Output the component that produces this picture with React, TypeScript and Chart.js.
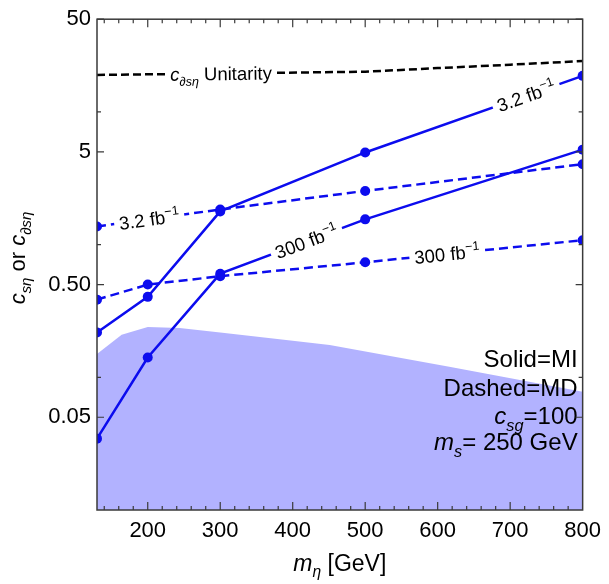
import React, { useEffect, useRef } from 'react';
import { Chart, registerables } from 'chart.js';

Chart.register(...registerables);

const FONT = '"Liberation Sans", Arial, Helvetica, sans-serif';
const BLUE = 'rgb(12,12,238)';
const SHADE = 'rgb(178,178,255)';
const FRAME = '#3a3a3a';

// Mass points (GeV) and coupling limits
const massMI = [130, 200, 300, 500, 800];
const solid32 = [0.218, 0.404, 1.78, 4.95, 18.7];
const solid300 = [0.0345, 0.141, 0.604, 1.55, 5.2];

const massMD32 = [130, 300, 500, 800];
const dashed32 = [1.37, 1.84, 2.54, 4.04];

const massMD300 = [130, 200, 300, 500, 800];
const dashed300 = [0.385, 0.5, 0.578, 0.736, 1.08];

const massUnitarity = [130, 300, 500, 600, 700, 800];
const unitarity = [19.0, 19.5, 20.1, 21.4, 22.7, 24.2];

const massExcluded = [130, 164, 200, 244, 300, 400, 451, 616, 800];
const excluded = [0.15, 0.209, 0.239, 0.235, 0.218, 0.189, 0.175, 0.12, 0.078];

const xMajorTicks = [200, 300, 400, 500, 600, 700, 800];
const xMinorStep = 20;
const yMajorTicks = [0.05, 0.5, 5, 50];
const yTickLabels = ['0.05', '0.50', '5', '50'];
const yMinorTicks = [0.1, 1, 10];

type Run = { t: string; italic?: boolean; sub?: boolean; sup?: boolean };

const fbInv = (lumi: string): Run[] => [{ t: `${lumi} fb` }, { t: '\u22121', sup: true }];

// Inline curve labels: dataset index, mass where the label sits
const curveLabels: { ds: number; mass: number; runs: Run[] }[] = [
  { ds: 0, mass: 722, runs: fbInv('3.2') },
  { ds: 1, mass: 419, runs: fbInv('300') },
  { ds: 2, mass: 202, runs: fbInv('3.2') },
  { ds: 3, mass: 613, runs: fbInv('300') },
  {
    ds: 4,
    mass: 301,
    runs: [{ t: 'c', italic: true }, { t: '\u2202s\u03b7', italic: true, sub: true }, { t: ' Unitarity' }],
  },
];

const noteLines: Run[][] = [
  [{ t: 'Solid=MI' }],
  [{ t: 'Dashed=MD' }],
  [{ t: 'c', italic: true }, { t: 'sg', italic: true, sub: true }, { t: '=100' }],
  [{ t: 'm', italic: true }, { t: 's', italic: true, sub: true }, { t: '= 250 GeV' }],
];

const xTitle: Run[] = [{ t: 'm', italic: true }, { t: '\u03b7', italic: true, sub: true }, { t: ' [GeV]' }];
const yTitle: Run[] = [
  { t: 'c', italic: true },
  { t: 's\u03b7', italic: true, sub: true },
  { t: ' or ' },
  { t: 'c', italic: true },
  { t: '\u2202s\u03b7', italic: true, sub: true },
];

function runFont(r: Run, size: number) {
  const s = r.sub || r.sup ? size * 0.68 : size;
  return `${r.italic ? 'italic ' : ''}${s}px ${FONT}`;
}

function runsWidth(ctx: CanvasRenderingContext2D, runs: Run[], size: number) {
  let w = 0;
  for (const r of runs) {
    ctx.font = runFont(r, size);
    w += ctx.measureText(r.t).width;
  }
  return w;
}

// Draws a run list starting at x (left edge) on baseline y
function drawRuns(ctx: CanvasRenderingContext2D, runs: Run[], size: number, x: number, y: number) {
  ctx.textAlign = 'left';
  ctx.textBaseline = 'alphabetic';
  let cx = x;
  for (const r of runs) {
    ctx.font = runFont(r, size);
    const dy = r.sub ? size * 0.28 : r.sup ? -size * 0.42 : 0;
    ctx.fillText(r.t, cx, y + dy);
    cx += ctx.measureText(r.t).width;
  }
}

function locateOnCurve(chart: Chart, ds: number, mass: number) {
  const meta = chart.getDatasetMeta(ds);
  const data = chart.data.datasets[ds].data as { x: number; y: number }[];
  const pts = meta.data as any[];
  let i = 0;
  while (i < data.length - 2 && mass > data[i + 1].x) i++;
  const t = (mass - data[i].x) / (data[i + 1].x - data[i].x);
  const p0 = pts[i];
  const p1 = pts[i + 1];
  return {
    x: p0.x + t * (p1.x - p0.x),
    y: p0.y + t * (p1.y - p0.y),
    angle: Math.atan2(p1.y - p0.y, p1.x - p0.x),
  };
}

const decorations = {
  id: 'decorations',
  afterDatasetsDraw(chart: Chart) {
    const ctx = chart.ctx;
    const { left, right, top, bottom } = chart.chartArea;
    const xs = chart.scales.x;
    const ys = chart.scales.y;

    // labels sitting on the curves, breaking the line underneath
    const labelSize = 18.5;
    for (const lab of curveLabels) {
      const p = locateOnCurve(chart, lab.ds, lab.mass);
      const w = runsWidth(ctx, lab.runs, labelSize);
      ctx.save();
      ctx.translate(p.x, p.y);
      ctx.rotate(p.angle);
      ctx.fillStyle = '#ffffff';
      ctx.fillRect(-w / 2 - 5, -6, w + 10, 12);
      ctx.fillStyle = '#000000';
      drawRuns(ctx, lab.runs, labelSize, -w / 2, labelSize * 0.36);
      ctx.restore();
    }

    // notes in the lower right corner
    ctx.save();
    ctx.fillStyle = '#000000';
    const noteSize = 24;
    const noteBase = [367, 396, 424, 450];
    noteLines.forEach((runs, i) => {
      const w = runsWidth(ctx, runs, noteSize);
      drawRuns(ctx, runs, noteSize, right - 5 - w, noteBase[i]);
    });
    ctx.restore();

    // frame with inward ticks on all four sides
    ctx.save();
    ctx.strokeStyle = FRAME;
    ctx.lineWidth = 1.5;
    ctx.strokeRect(left, top, right - left, bottom - top);
    ctx.lineWidth = 1.2;
    ctx.beginPath();
    for (let m = 140; m < 800; m += xMinorStep) {
      const len = xMajorTicks.includes(m) ? 8 : 4;
      const px = xs.getPixelForValue(m);
      ctx.moveTo(px, bottom);
      ctx.lineTo(px, bottom - len);
      ctx.moveTo(px, top);
      ctx.lineTo(px, top + len);
    }
    const yTicks = [...yMajorTicks.map((v) => [v, 7]), ...yMinorTicks.map((v) => [v, 4])];
    for (const [v, len] of yTicks) {
      const py = ys.getPixelForValue(v);
      ctx.moveTo(left, py);
      ctx.lineTo(left + len, py);
      ctx.moveTo(right, py);
      ctx.lineTo(right - len, py);
    }
    ctx.stroke();
    ctx.restore();

    // axis titles
    ctx.save();
    ctx.fillStyle = '#000000';
    const xtSize = 23;
    const xw = runsWidth(ctx, xTitle, xtSize);
    drawRuns(ctx, xTitle, xtSize, (left + right) / 2 - xw / 2, 571);
    const ytSize = 22;
    const yw = runsWidth(ctx, yTitle, ytSize);
    ctx.translate(25, 258);
    ctx.rotate(-Math.PI / 2);
    drawRuns(ctx, yTitle, ytSize, -yw / 2, 0);
    ctx.restore();
  },
};

const pts = (xs: number[], ys: number[]) => xs.map((x, i) => ({ x, y: ys[i] }));

export default function App() {
  const ref = useRef<HTMLCanvasElement>(null);

  useEffect(() => {
    if (!ref.current) return;
    const markerLine = {
      borderColor: BLUE,
      backgroundColor: BLUE,
      borderWidth: 2.5,
      pointRadius: 5,
      pointBackgroundColor: BLUE,
      pointBorderWidth: 0,
      tension: 0,
      fill: false,
      clip: 0,
    };
    const chart = new Chart(ref.current, {
      type: 'line',
      data: {
        datasets: [
          { ...markerLine, label: 'MI 3.2', data: pts(massMI, solid32) },
          { ...markerLine, label: 'MI 300', data: pts(massMI, solid300) },
          { ...markerLine, label: 'MD 3.2', data: pts(massMD32, dashed32), borderDash: [9, 5] },
          { ...markerLine, label: 'MD 300', data: pts(massMD300, dashed300), borderDash: [9, 5] },
          {
            label: 'Unitarity',
            data: pts(massUnitarity, unitarity),
            borderColor: '#000000',
            borderWidth: 2.5,
            borderDash: [8, 4],
            pointRadius: 0,
            tension: 0,
            fill: false,
            clip: 0,
          },
          {
            label: 'Excluded',
            data: pts(massExcluded, excluded),
            borderWidth: 0,
            borderColor: SHADE,
            backgroundColor: SHADE,
            pointRadius: 0,
            tension: 0,
            fill: 'start',
            clip: 0,
          },
        ] as any,
      },
      options: {
        animation: false,
        responsive: false,
        events: [],
        layout: { padding: { top: 17, right: 25, left: 0, bottom: 0 } },
        plugins: { legend: { display: false }, tooltip: { enabled: false } },
        scales: {
          x: {
            type: 'linear',
            min: 130,
            max: 800,
            grid: { display: false, drawTicks: false, tickLength: 0 },
            border: { display: false },
            afterBuildTicks: (s: any) => {
              s.ticks = xMajorTicks.map((v) => ({ value: v }));
            },
            afterFit: (s: any) => {
              s.height = 74;
            },
            ticks: {
              autoSkip: false,
              maxRotation: 0,
              padding: 8,
              color: '#000000',
              font: { family: FONT, size: 22 },
              callback: (v: any) => String(v),
            },
          },
          y: {
            type: 'logarithmic',
            min: 0.01,
            max: 50,
            grid: { display: false, drawTicks: false, tickLength: 0 },
            border: { display: false },
            afterBuildTicks: (s: any) => {
              s.ticks = yMajorTicks.map((v) => ({ value: v }));
            },
            afterFit: (s: any) => {
              s.width = 97;
            },
            ticks: {
              autoSkip: false,
              padding: 6,
              color: '#000000',
              font: { family: FONT, size: 22 },
              callback: (v: any) => {
                const i = yMajorTicks.findIndex((t) => Math.abs(t - v) < 1e-9);
                return i >= 0 ? yTickLabels[i] : '';
              },
            },
          },
        },
      },
      plugins: [decorations],
    });
    return () => chart.destroy();
  }, []);

  return (
    <div style={{ position: 'absolute', left: 0, top: 0, width: 609, height: 584, background: '#ffffff' }}>
      <canvas ref={ref} width={609} height={584} style={{ width: 609, height: 584 }} />
    </div>
  );
}
